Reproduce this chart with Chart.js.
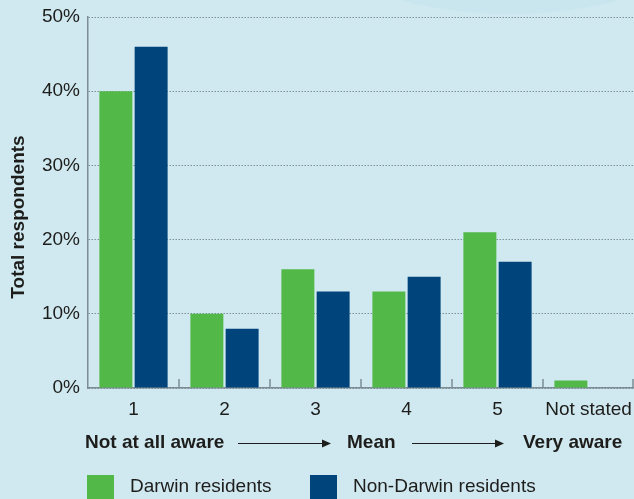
<!DOCTYPE html>
<html>
<head>
<meta charset="utf-8">
<script src="https://cdn.jsdelivr.net/npm/chart.js@4.4.1/dist/chart.umd.min.js"></script>
<style>
  html, body { margin: 0; padding: 0; background: #d0e9f0; }
  #wrap { width: 634px; height: 499px; position: relative; }
</style>
</head>
<body>
<div id="wrap"><canvas id="chart"></canvas></div>
<script>
const categories = ['1', '2', '3', '4', '5', 'Not stated']
const darwin = [40, 10, 16, 13, 21, 1]
const nonDarwin = [46, 8, 13, 15, 17, 0]
const yTicks = [0, 10, 20, 30, 40, 50]
const scaleNotes = ['Not at all aware', 'Mean', 'Very aware']

const GREEN = '#52b848'
const NAVY = '#00447c'
const INK = '#1d1d1b'
const FONT = '"Liberation Sans", Arial, sans-serif'

// background, axis title, small boundary ticks, arrow row and legend
const extras = {
  id: 'extras',
  beforeDraw(chart) {
    const { ctx, width, height } = chart
    ctx.save()
    ctx.fillStyle = '#d0e9f0'
    ctx.fillRect(0, 0, width, height)
    ctx.fillStyle = '#c9e6ef'
    ctx.beginPath()
    ctx.ellipse(510, -70, 200, 84, 0, 0, Math.PI * 2)
    ctx.fill()
    ctx.restore()
  },
  afterDraw(chart) {
    const { ctx, chartArea } = chart
    const x = chart.scales.x
    const step = x.getPixelForValue(1) - x.getPixelForValue(0)
    ctx.save()

    // short ticks between categories, pointing up from the axis
    ctx.strokeStyle = '#7d8c94'
    ctx.lineWidth = 1.5
    for (let i = 0; i < categories.length; i++) {
      const px = Math.min(Math.round(x.getPixelForValue(i) + step / 2), chartArea.right - 1)
      ctx.beginPath()
      ctx.moveTo(px, chartArea.bottom)
      ctx.lineTo(px, chartArea.bottom - 9)
      ctx.stroke()
    }

    // y axis title
    ctx.fillStyle = INK
    ctx.font = 'bold 19px ' + FONT
    ctx.textAlign = 'center'
    ctx.textBaseline = 'middle'
    ctx.save()
    ctx.translate(19, 217)
    ctx.rotate(-Math.PI / 2)
    ctx.fillText('Total respondents', 0, 0)
    ctx.restore()

    // awareness scale row
    const rowY = 443
    ctx.textAlign = 'left'
    ctx.fillText(scaleNotes[0], 85, rowY)
    ctx.fillText(scaleNotes[1], 347, rowY)
    ctx.fillText(scaleNotes[2], 523, rowY)
    ctx.strokeStyle = INK
    ctx.lineWidth = 1
    const arrow = (x0, x1) => {
      ctx.beginPath()
      ctx.moveTo(x0, rowY + 0.5)
      ctx.lineTo(x1 - 4, rowY + 0.5)
      ctx.stroke()
      ctx.beginPath()
      ctx.moveTo(x1, rowY + 0.5)
      ctx.lineTo(x1 - 9, rowY - 3.5)
      ctx.lineTo(x1 - 9, rowY + 4.5)
      ctx.closePath()
      ctx.fill()
    }
    arrow(238, 331)
    arrow(412, 504)

    // legend
    ctx.font = '19px ' + FONT
    const legY = 487
    chart.data.datasets.forEach((ds, i) => {
      const bx = i === 0 ? 87 : 310
      ctx.fillStyle = ds.backgroundColor
      ctx.fillRect(bx, legY - 12, 27, 26)
      ctx.fillStyle = INK
      ctx.fillText(ds.label, bx + 43, legY)
    })
    ctx.restore()
  }
}

new Chart(document.getElementById('chart'), {
  type: 'bar',
  data: {
    labels: categories,
    datasets: [
      { label: 'Darwin residents', data: darwin, backgroundColor: GREEN },
      { label: 'Non-Darwin residents', data: nonDarwin, backgroundColor: NAVY }
    ]
  },
  options: {
    responsive: true,
    maintainAspectRatio: false,
    animation: false,
    datasets: { bar: { barPercentage: 0.935, categoryPercentage: 0.775 } },
    layout: { padding: { top: 17, right: 0, left: 0, bottom: 0 } },
    plugins: { legend: { display: false }, tooltip: { enabled: false } },
    scales: {
      x: {
        grid: { display: false, drawTicks: false },
        border: { display: true, color: '#7d8c94', width: 1.5 },
        ticks: { color: INK, font: { family: FONT, size: 19 }, padding: 10, maxRotation: 0, autoSkip: false },
        afterFit(scale) {
          scale.height = 111
          scale.paddingLeft = 0
          scale.paddingRight = 0
        }
      },
      y: {
        min: 0,
        max: 50,
        afterBuildTicks(scale) { scale.ticks = yTicks.map(v => ({ value: v })) },
        grid: { color: '#7f9098', lineWidth: 1, drawTicks: false },
        border: { display: true, color: '#7d8c94', width: 1.5, dash: [1.5, 1.5] },
        ticks: {
          color: INK,
          font: { family: FONT, size: 19 },
          padding: 8,
          callback: v => v + '%'
        },
        afterFit(scale) {
          scale.width = 88
          scale.paddingTop = 0
          scale.paddingBottom = 0
        }
      }
    }
  },
  plugins: [extras]
})
</script>
</body>
</html>
